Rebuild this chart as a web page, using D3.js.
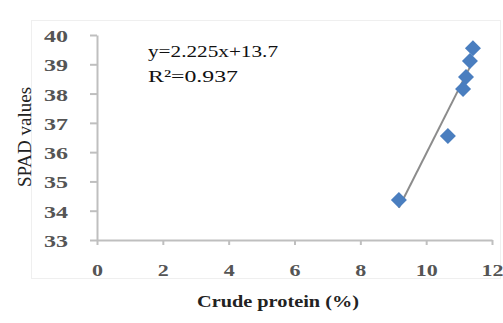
<!DOCTYPE html>
<html>
<head>
<meta charset="utf-8">
<script src="https://cdn.jsdelivr.net/npm/d3@7"></script>
<style>
  html, body { margin: 0; padding: 0; background: #fff; }
  svg { display: block; }
</style>
</head>
<body>
<svg id="chart" width="503" height="323"></svg>
<script>
// ---- data ----
const crudeProtein = [9.17, 10.66, 11.12, 11.21, 11.33, 11.42];
const spadValues   = [34.37, 36.55, 38.16, 38.57, 39.11, 39.55];
const xTicks = [0, 2, 4, 6, 8, 10, 12];
const yTicks = [33, 34, 35, 36, 37, 38, 39, 40];
const slope = 2.225, intercept = 13.7;
const equationText = "y=2.225x+13.7";
const r2Label = "R²=0.937";
const xTitle = "Crude protein (%)";
const yTitle = "SPAD values";

const svg = d3.select("#chart");
const serif = "'Liberation Serif', 'Times New Roman', serif";

// plot area border
svg.append("rect")
  .attr("x", 31.5).attr("y", 20.5).attr("width", 469).attr("height", 258)
  .attr("fill", "#fff").attr("stroke", "#efefef").attr("stroke-width", 1);

const x = d3.scaleLinear().domain([0, 12]).range([97, 492]);
const y = d3.scaleLinear().domain([33, 40]).range([240, 35]);

const axisColor = "#bfbfbf";

// y axis
const gy = svg.append("g").attr("transform", "translate(97,0)")
  .call(d3.axisLeft(y).tickValues(yTicks).tickSize(7).tickSizeOuter(0).tickPadding(22).tickFormat(d3.format("d")));
gy.select(".domain").attr("stroke", axisColor).attr("stroke-width", 2);
gy.selectAll(".tick line").attr("stroke", axisColor).attr("stroke-width", 2);
gy.selectAll(".tick text")
  .attr("font-family", serif).attr("font-size", 17).attr("font-weight", "bold")
  .attr("fill", "#555").attr("dy", "0.38em")
  .attr("textLength", 24).attr("lengthAdjust", "spacingAndGlyphs");

// x axis
const gx = svg.append("g").attr("transform", "translate(0,240)")
  .call(d3.axisBottom(x).tickValues(xTicks).tickSize(5).tickSizeOuter(0).tickPadding(19).tickFormat(d3.format("d")));
gx.select(".domain").attr("stroke", axisColor).attr("stroke-width", 2);
gx.selectAll(".tick line").attr("stroke", axisColor).attr("stroke-width", 2);
gx.selectAll(".tick text")
  .attr("font-family", serif).attr("font-size", 17).attr("font-weight", "bold")
  .attr("fill", "#555")
  .each(function(d) {
    d3.select(this).attr("textLength", String(d).length > 1 ? 22 : 11).attr("lengthAdjust", "spacingAndGlyphs");
  });

// trend line
const xmin = d3.min(crudeProtein), xmax = d3.max(crudeProtein);
svg.append("line")
  .attr("x1", x(xmin)).attr("y1", y(slope * xmin + intercept))
  .attr("x2", x(xmax)).attr("y2", y(slope * xmax + intercept))
  .attr("stroke", "#8c8c8c").attr("stroke-width", 2);

// markers (diamonds)
const pts = crudeProtein.map((v, i) => [v, spadValues[i]]);
svg.append("g").selectAll("path").data(pts).join("path")
  .attr("transform", d => `translate(${x(d[0])},${y(d[1])})`)
  .attr("d", "M0,-8L8,0L0,8L-8,0Z")
  .attr("fill", "#4a7ebf");

// equation
svg.append("text").attr("x", 148).attr("y", 57)
  .attr("font-family", serif).attr("font-size", 17).attr("fill", "#111")
  .attr("textLength", 130).attr("lengthAdjust", "spacingAndGlyphs")
  .text(equationText);
svg.append("text").attr("x", 148).attr("y", 82)
  .attr("font-family", serif).attr("font-size", 17).attr("fill", "#111")
  .attr("textLength", 90).attr("lengthAdjust", "spacingAndGlyphs")
  .text(r2Label);

// axis titles
svg.append("text").attr("x", 278).attr("y", 307).attr("text-anchor", "middle")
  .attr("font-family", serif).attr("font-size", 17).attr("font-weight", "bold").attr("fill", "#222")
  .attr("textLength", 162).attr("lengthAdjust", "spacingAndGlyphs")
  .text(xTitle);
svg.append("text").attr("transform", "translate(31,137) rotate(-90)").attr("text-anchor", "middle")
  .attr("font-family", serif).attr("font-size", 19).attr("fill", "#222")
  .text(yTitle);
</script>
</body>
</html>
